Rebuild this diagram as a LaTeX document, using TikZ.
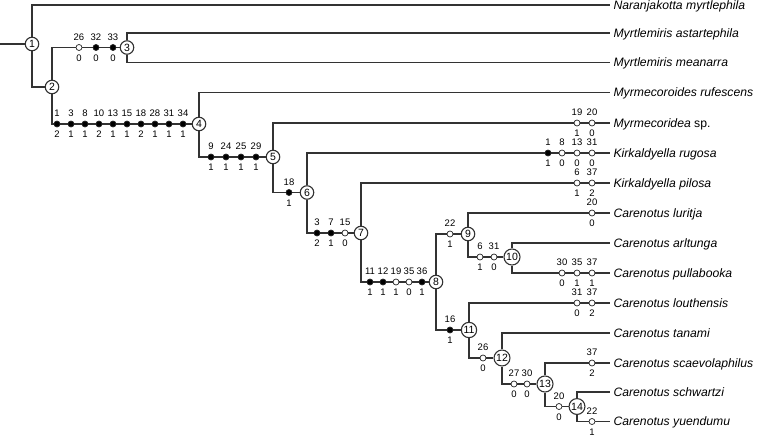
\documentclass[tikz,border=0pt]{standalone}
\usepackage{fontspec}
\setmainfont{Liberation Sans}
\usetikzlibrary{positioning}

\begin{document}
\begin{tikzpicture}[
  x=1pt, y=-1pt,
  line width=1.1pt,
  draw=black!80,
  label distance=2.2pt,
  clade/.style={
    circle,
    draw=black!80,
    fill=white,
    inner sep=0.8pt,
    minimum size=13.5pt,
    font=\fontsize{10.5}{12}\selectfont
  },
  taxon/.style={
    anchor=west,
    inner sep=3pt,
    text depth=0pt,
    font=\fontsize{12.2}{14}\selectfont\itshape
  },
  mk/.style={
    circle,
    draw=black!85,
    line width=0.7pt,
    inner sep=0pt,
    minimum size=6pt
  },
  lab/.style={
    inner sep=1pt,
    font=\fontsize{9.5}{10}\selectfont
  }
]
\useasboundingbox (0,0) rectangle (761,436);

% internal nodes
\node[clade] (n1) at (32,44) {1};
\node[clade] (n2) at (52,87) {2};
\node[clade] (n3) at (127,47.5) {3};
\node[clade] (n4) at (199,124) {4};
\node[clade] (n5) at (273,157) {5};
\node[clade] (n6) at (307,192.5) {6};
\node[clade] (n7) at (361,233) {7};
\node[clade] (n8) at (436,282) {8};
\node[clade] (n9) at (468,234) {9};
\node[clade] (n10) at (512,257) {10};
\node[clade] (n11) at (469,330) {11};
\node[clade] (n12) at (502,358) {12};
\node[clade] (n13) at (545,384) {13};
\node[clade] (n14) at (577,406.5) {14};
\coordinate (root) at (0,44);

% terminal taxa
\node[taxon] (tNar) at (610,5) {Naranjakotta myrtlephila};
\node[taxon] (tMast) at (610,33) {Myrtlemiris astartephila};
\node[taxon] (tMmea) at (610,62.5) {Myrtlemiris meanarra};
\node[taxon] (tMruf) at (610,92.5) {Myrmecoroides rufescens};
\node[taxon] (tMyr) at (610,123) {Myrmecoridea \upshape sp.};
\node[taxon] (tKrug) at (610,153) {Kirkaldyella rugosa};
\node[taxon] (tKpil) at (610,183) {Kirkaldyella pilosa};
\node[taxon] (tClur) at (610,213) {Carenotus luritja};
\node[taxon] (tCarl) at (610,243) {Carenotus arltunga};
\node[taxon] (tCpul) at (610,273) {Carenotus pullabooka};
\node[taxon] (tClou) at (610,303) {Carenotus louthensis};
\node[taxon] (tCtan) at (610,333) {Carenotus tanami};
\node[taxon] (tCsca) at (610,363) {Carenotus scaevolaphilus};
\node[taxon] (tCsch) at (610,392) {Carenotus schwartzi};
\node[taxon] (tCyue) at (610,421.5) {Carenotus yuendumu};

% branches
\draw (root) -- (n1);
\foreach \a/\b in {n1/tNar, n1/n2, n2/n3, n2/n4, n3/tMast, n3/tMmea,
  n4/tMruf, n4/n5, n5/tMyr, n5/n6, n6/tKrug, n6/n7, n7/tKpil, n7/n8,
  n8/n9, n8/n11, n9/tClur, n9/n10, n10/tCarl, n10/tCpul, n11/tClou,
  n11/n12, n12/tCtan, n12/n13, n13/tCsca, n13/n14, n14/tCsch, n14/tCyue}
  \draw (\a) |- (\b);

% character changes: x / character / state / fill / branch
\foreach \x/\ch/\st/\f/\br [count=\i] in {
  79/26/0/white/n3, 96/32/0/black/n3, 113/33/0/black/n3,
  57/1/2/black/n4, 71/3/1/black/n4, 85/8/1/black/n4, 99/10/2/black/n4,
  113/13/1/black/n4, 127/15/1/black/n4, 141/18/2/black/n4,
  155/28/1/black/n4, 169/31/1/black/n4, 183/34/1/black/n4,
  211/9/1/black/n5, 226/24/1/black/n5, 241/25/1/black/n5, 256/29/1/black/n5,
  289/18/1/black/n6,
  317/3/2/black/n7, 331/7/1/black/n7, 345/15/0/white/n7,
  370/11/1/black/n8, 383/12/1/black/n8, 396/19/1/white/n8,
  409/35/0/white/n8, 422/36/1/black/n8,
  450/22/1/white/n9, 480/6/1/white/n10, 494/31/0/white/n10,
  450/16/1/black/n11, 483/26/0/white/n12,
  514/27/0/white/n13, 527/30/0/white/n13, 559/20/0/white/n14,
  577/19/1/white/tMyr, 592/20/0/white/tMyr,
  548/1/1/black/tKrug, 562/8/0/white/tKrug, 577/13/0/white/tKrug,
  592/31/0/white/tKrug,
  577/6/1/white/tKpil, 592/37/2/white/tKpil,
  592/20/0/white/tClur,
  562/30/0/white/tCpul, 577/35/1/white/tCpul, 592/37/1/white/tCpul,
  577/31/0/white/tClou, 592/37/2/white/tClou,
  592/37/2/white/tCsca, 592/22/1/white/tCyue}
  \node[mk, fill=\f, label={[lab]above:\ch}, label={[lab]below:\st}]
    (m\i) at (\x,0 |- \br) {};
\end{tikzpicture}
\end{document}
